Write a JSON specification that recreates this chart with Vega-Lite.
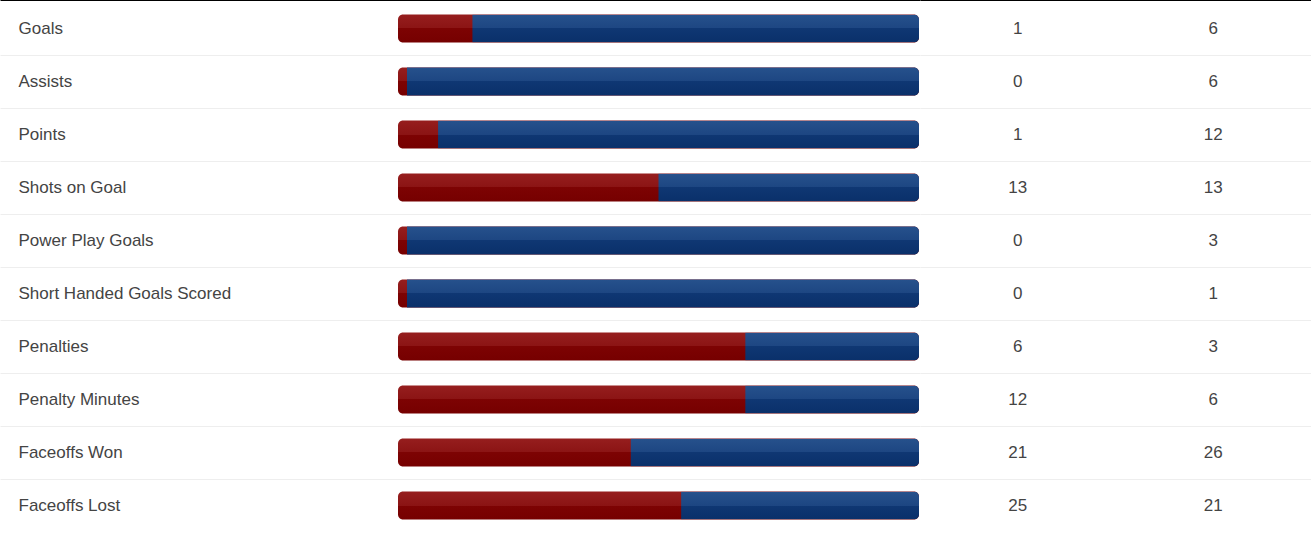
{
  "$schema": "https://vega.github.io/schema/vega-lite/v6.json",
  "padding": {"top": 0, "left": 0, "right": 0, "bottom": 0},
  "spacing": 0,
  "bounds": "flush",
  "data": {
    "values": [
      {"stat": "Goals", "home": 1, "away": 6},
      {"stat": "Assists", "home": 0, "away": 6},
      {"stat": "Points", "home": 1, "away": 12},
      {"stat": "Shots on Goal", "home": 13, "away": 13},
      {"stat": "Power Play Goals", "home": 0, "away": 3},
      {"stat": "Short Handed Goals Scored", "home": 0, "away": 1},
      {"stat": "Penalties", "home": 6, "away": 3},
      {"stat": "Penalty Minutes", "home": 12, "away": 6},
      {"stat": "Faceoffs Won", "home": 21, "away": 26},
      {"stat": "Faceoffs Lost", "home": 25, "away": 21}
    ]
  },
  "hconcat": [
    {
      "width": 920,
      "height": 530,
      "encoding": {
        "y": {
          "field": "stat",
          "type": "nominal",
          "sort": null,
          "scale": {"paddingInner": 0, "paddingOuter": 0},
          "axis": {
            "title": null,
            "domain": false,
            "ticks": false,
            "labelAlign": "left",
            "labelPadding": -18,
            "labelLimit": 0,
            "labelFont": "Liberation Sans",
            "labelFontSize": {"condition": {"test": "datum.extra", "value": 0}, "value": 17},
            "labelColor": "#444444",
            "grid": true,
            "tickBand": "extent",
            "gridColor": {"condition": {"test": "datum.extra", "value": "transparent"}, "value": "#eeeeee"},
            "gridWidth": 1
          }
        }
      },
      "layer": [
        {
          "mark": {
            "type": "bar",
            "height": 28,
            "cornerRadius": 5,
            "color": {"gradient": "linear", "x1": 0, "y1": 0, "x2": 0, "y2": 1,
              "stops": [
                {"offset": 0, "color": "#961e1e"},
                {"offset": 0.5, "color": "#8b1414"},
                {"offset": 0.5, "color": "#7d0303"},
                {"offset": 1, "color": "#760000"}
              ]}
          },
          "encoding": {
            "x": {
              "datum": 0,
              "type": "quantitative",
              "scale": {"domain": [-0.763916, 1.001919], "nice": false, "zero": false},
              "axis": {"orient": "top", "title": null, "labels": false, "ticks": false, "grid": false, "domain": true, "domainColor": "#000000", "domainWidth": 1, "offset": 2}
            },
            "x2": {"datum": 1}
          }
        },
        {
          "transform": [
            {"filter": "datum.home > 0"},
            {"fold": ["home", "away"], "as": ["team", "value"]}
          ],
          "mark": {
            "type": "bar",
            "height": 28,
            "cornerRadiusTopRight": 5,
            "cornerRadiusBottomRight": 5,
            "color": {"gradient": "linear", "x1": 0, "y1": 0, "x2": 0, "y2": 1,
              "stops": [
                {"offset": 0, "color": "#26518c"},
                {"offset": 0.5, "color": "#1d4682"},
                {"offset": 0.5, "color": "#0f3773"},
                {"offset": 1, "color": "#0a306a"}
              ]}
          },
          "encoding": {
            "x": {"field": "value", "type": "quantitative", "stack": "normalize"},
            "detail": {"field": "team"},
            "order": {"field": "team", "sort": "descending"},
            "opacity": {"condition": {"test": "datum.team === 'away'", "value": 1}, "value": 0}
          }
        },
        {
          "transform": [{"filter": "datum.home === 0"}],
          "mark": {
            "type": "bar",
            "height": 28,
            "xOffset": 9,
            "cornerRadiusTopRight": 5,
            "cornerRadiusBottomRight": 5,
            "color": {"gradient": "linear", "x1": 0, "y1": 0, "x2": 0, "y2": 1,
              "stops": [
                {"offset": 0, "color": "#26518c"},
                {"offset": 0.5, "color": "#1d4682"},
                {"offset": 0.5, "color": "#0f3773"},
                {"offset": 1, "color": "#0a306a"}
              ]}
          },
          "encoding": {
            "x": {"datum": 0, "type": "quantitative"},
            "x2": {"datum": 1}
          }
        }
      ]
    },
    {
      "width": 391,
      "height": 530,
      "transform": [{"fold": ["home", "away"], "as": ["team", "value"]}],
      "mark": {"type": "text", "font": "Liberation Sans", "fontSize": 17, "color": "#444444", "baseline": "middle"},
      "encoding": {
        "y": {
          "field": "stat",
          "type": "nominal",
          "sort": null,
          "scale": {"paddingInner": 0, "paddingOuter": 0},
          "axis": {
            "title": null,
            "domain": false,
            "ticks": false,
            "labels": false,
            "grid": true,
            "tickBand": "extent",
            "gridColor": {"condition": {"test": "datum.extra", "value": "transparent"}, "value": "#eeeeee"},
            "gridWidth": 1
          }
        },
        "x": {
          "field": "team",
          "type": "nominal",
          "sort": ["home", "away"],
          "scale": {"paddingInner": 0, "paddingOuter": 0},
          "axis": {"orient": "top", "title": null, "labels": false, "ticks": false, "grid": false, "domain": true, "domainColor": "#000000", "domainWidth": 1, "offset": 2}
        },
        "text": {"field": "value", "type": "quantitative"}
      }
    }
  ],
  "config": {
    "view": {"stroke": null},
    "concat": {"spacing": 0}
  }
}
